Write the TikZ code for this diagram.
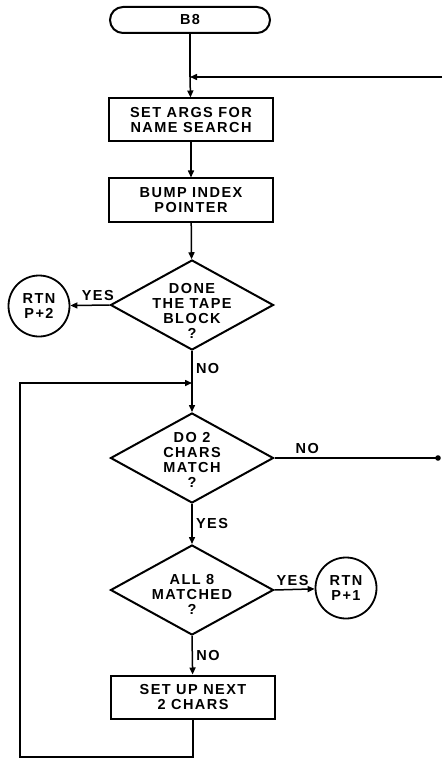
\documentclass[tikz,border=0pt]{standalone}
\usepackage{fontspec}
\setsansfont[LetterSpace=10]{Liberation Sans}
\usetikzlibrary{shapes.geometric,arrows.meta}

\tikzset{
  every node/.style={font=\sffamily\bfseries\fontsize{14.5}{15}\selectfont, align=center},
  terminal/.style={draw, line width=2pt, rounded corners=13pt, minimum width=160pt, minimum height=26pt},
  procbox/.style={draw, line width=2pt, minimum width=164pt, minimum height=43pt, inner sep=1pt},
  decision/.style={draw, diamond, line width=2pt, inner sep=0pt, minimum width=163pt, minimum height=90pt},
  exitpt/.style={draw, circle, line width=1.8pt, minimum size=61pt, inner sep=0pt},
  flow/.style={line width=1.5pt, -{Triangle[length=7pt,width=6pt]}},
  line/.style={line width=1.5pt}
}

\begin{document}
\begin{tikzpicture}[x=1pt,y=-1pt]
\useasboundingbox (0,0) rectangle (442,759);
\node[terminal] (B8) at (190,20) {B8};
\node[procbox] (SA) at (191,120) {SET ARGS FOR\\NAME SEARCH};
\node[procbox] (BI) at (191,200) {BUMP INDEX\\POINTER};
\node[decision, label={[yshift=-6pt]center:DONE\\THE TAPE\\BLOCK\\?}] (DT) at (192,305) {};
\node[exitpt] (R2) at (39,306) {RTN\\P+2};
\node[decision, label={[yshift=-2pt]center:DO 2\\CHARS\\MATCH\\?}] (DM) at (192,458) {};
\node[decision, label={[yshift=-4pt]center:ALL 8\\MATCHED\\?}] (AM) at (192,590) {};
\node[exitpt] (R1) at (346,588) {RTN\\P+1};
\node[procbox] (SN) at (193,697) {SET UP NEXT\\2 CHARS};
\coordinate (FB) at (442,77);
\coordinate (J1) at (B8.south |- FB);
\coordinate (J2) at (192,383);
\coordinate (LB) at (20,757);
\coordinate (NX) at (438,458);

\draw[line] (B8) -- (J1);
\draw[flow] (J1) -- (SA);
\draw[flow] (FB) -- (J1);
\draw[flow] (SA) -- (BI);
\draw[flow] (BI) -- (DT);
\draw[flow] (DT.west) -- node[above,pos=0.3]{YES} (R2);
\draw[line] (DT.south) -- node[right,pos=0.55]{NO} (J2);
\draw[flow] (J2) -- (DM.north);
\draw[line] (DM.east) -- node[above,pos=0.2]{NO} (NX);
\fill (NX) circle (2.8pt);
\draw[flow] (DM.south) -- node[right]{YES} (AM.north);
\draw[flow] (AM.east) -- node[above,pos=0.45]{YES} (R1);
\draw[flow] (AM.south) -- node[right]{NO} (SN);
\draw[flow] (SN.south) |- (LB) |- (J2);
\end{tikzpicture}
\end{document}
